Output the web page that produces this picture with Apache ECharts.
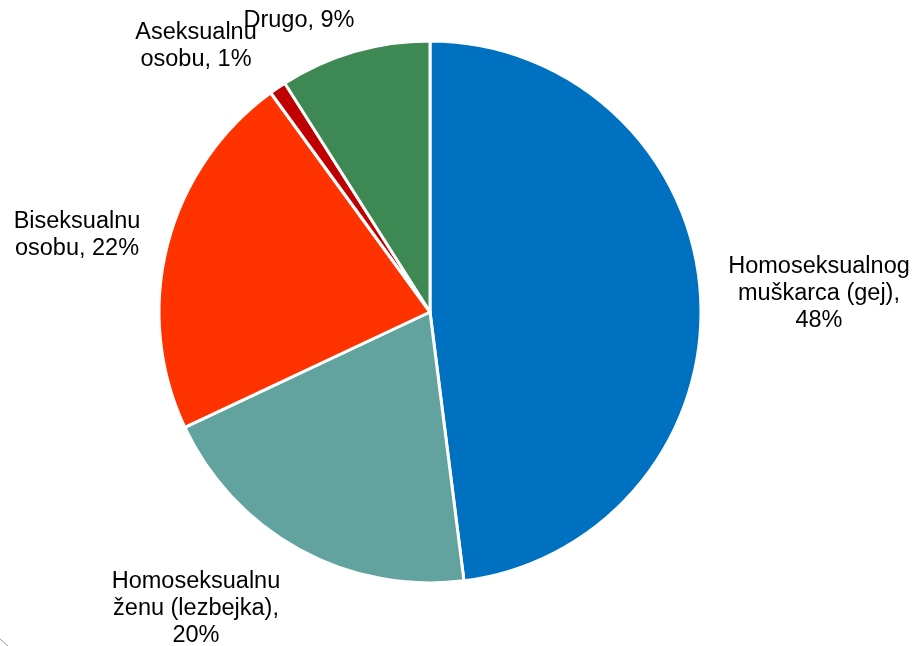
<!DOCTYPE html>
<html>
<head>
<meta charset="utf-8">
<script src="https://cdn.jsdelivr.net/npm/echarts@6/dist/echarts.min.js"></script>
<style>
  html, body { margin: 0; padding: 0; background: #fff; }
  #main { width: 917px; height: 646px; }
</style>
</head>
<body>
<div id="main"></div>
<script>
// podaci
let categories = ['Homoseksualnog muškarca (gej)', 'Homoseksualnu ženu (lezbejka)', 'Biseksualnu osobu', 'Aseksualnu osobu', 'Drugo'];
let labelLines = [
    ['Homoseksualnog', 'muškarca (gej),', '48%'],
    ['Homoseksualnu', 'ženu (lezbejka),', '20%'],
    ['Biseksualnu', 'osobu, 22%'],
    ['Aseksualnu', 'osobu, 1%'],
    ['Drugo, 9%']
];
let values = [48, 20, 22, 1, 9];
let colors = ['#0070C0', '#62A39F', '#FF3300', '#C00000', '#3E8853'];

// položaj oznaka (središte teksta)
let labelPos = [[819, 294], [196, 609], [77, 235], [196, 46], [299, 21]];

let pieData = [];
for (let t = 0; t <= values.length - 1; t++){
    pieData.push({
        name: categories[t],
        value: values[t],
        itemStyle: { color: colors[t] }
    });
}

let mainchart = echarts.init(document.getElementById('main'));
let chart_config = {
    animation: false,
    backgroundColor: '#fff',
    graphic: [{
        type: 'line',
        shape: { x1: 0, y1: 639, x2: 8, y2: 646 },
        style: { stroke: '#9a9a9a', lineWidth: 1 }
    }],
    series: [{
        type: 'pie',
        center: [430, 312],
        radius: 271,
        startAngle: 90,
        clockwise: true,
        data: pieData,
        itemStyle: {
            borderColor: '#fff',
            borderWidth: 3
        },
        label: {
            show: true,
            position: 'outside',
            color: '#000',
            fontFamily: 'Liberation Sans, Arial, sans-serif',
            fontSize: 23.5,
            lineHeight: 27,
            align: 'center',
            width: 300,
            overflow: 'none',
            formatter: function (p) {
                return labelLines[p.dataIndex].join('\n');
            }
        },
        labelLine: { show: false },
        labelLayout: function (p) {
            let pos = labelPos[p.dataIndex];
            return {
                x: pos[0],
                y: pos[1],
                align: 'center',
                verticalAlign: 'middle',
                hideOverlap: false,
                moveOverlap: null
            };
        },
        emphasis: { disabled: true }
    }]
};
mainchart.setOption(chart_config);
</script>
</body>
</html>
